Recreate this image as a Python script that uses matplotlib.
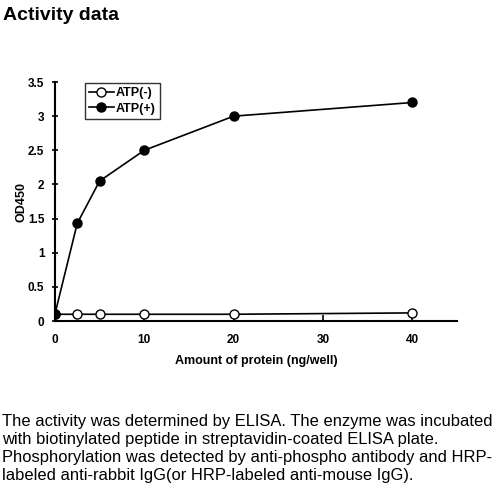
import matplotlib
matplotlib.use("Agg")
import matplotlib.pyplot as plt

plt.rcParams['font.family'] = ['Liberation Sans', 'DejaVu Sans']

# protein amount (ng/well)
protein = [0, 2.5, 5, 10, 20, 40]
atp_minus = [0.1, 0.1, 0.1, 0.1, 0.1, 0.12]
atp_plus = [0.1, 1.43, 2.05, 2.5, 3.0, 3.2]
xticks = [0, 10, 20, 30, 40]
yticks = [0, 0.5, 1, 1.5, 2, 2.5, 3, 3.5]
ytick_labels = ['0', '0.5', '1', '1.5', '2', '2.5', '3', '3.5']

fig = plt.figure(figsize=(4.99, 4.94), dpi=100)
ax = fig.add_axes([0.110, 0.350, 0.806, 0.484])

ax.plot(protein, atp_minus, '-o', color='black', mfc='white', mec='black',
        ms=6.5, lw=1.2, label='ATP(-)', zorder=3)
ax.plot(protein, atp_plus, '-o', color='black', mfc='black', ms=6.5, lw=1.2,
        label='ATP(+)', zorder=4)

ax.set_xlim(0, 45)
ax.set_ylim(0, 3.5)
ax.set_xticks(xticks)
ax.set_yticks(yticks)
ax.set_yticklabels(ytick_labels)
for s in ['top', 'right']:
    ax.spines[s].set_visible(False)
for s in ['left', 'bottom']:
    ax.spines[s].set_linewidth(1.5)
ax.tick_params(axis='x', direction='in', length=4, width=1.2, pad=9)
ax.tick_params(axis='y', direction='inout', length=5, width=1.2, pad=5)
for lab in ax.get_xticklabels() + ax.get_yticklabels():
    lab.set_fontweight('bold')
    lab.set_fontsize(8.5)

ax.set_xlabel('Amount of protein (ng/well)', fontsize=9, fontweight='bold', labelpad=7)
ax.set_ylabel('OD450', fontsize=9, fontweight='bold', labelpad=0)

leg = ax.legend(loc='upper left', bbox_to_anchor=(0.065, 1.01),
                prop={'weight': 'bold', 'size': 9}, frameon=True, fancybox=False,
                handlelength=2, handletextpad=0.2, borderpad=0.3, labelspacing=0.3,
                borderaxespad=0.3)
leg.get_frame().set_edgecolor('black')
leg.get_frame().set_linewidth(1.0)

fig.text(0.006, 0.986, 'Activity data', fontsize=14, fontweight='bold', va='top', ha='left')

desc = ("The activity was determined by ELISA. The enzyme was incubated\n"
        "with biotinylated peptide in streptavidin-coated ELISA plate.\n"
        "Phosphorylation was detected by anti-phospho antibody and HRP-\n"
        "labeled anti-rabbit IgG(or HRP-labeled anti-mouse IgG).")
fig.text(0.004, 0.162, desc, fontsize=11.9, va='top', ha='left', linespacing=1.26)

fig.savefig('out.png', dpi=100)
